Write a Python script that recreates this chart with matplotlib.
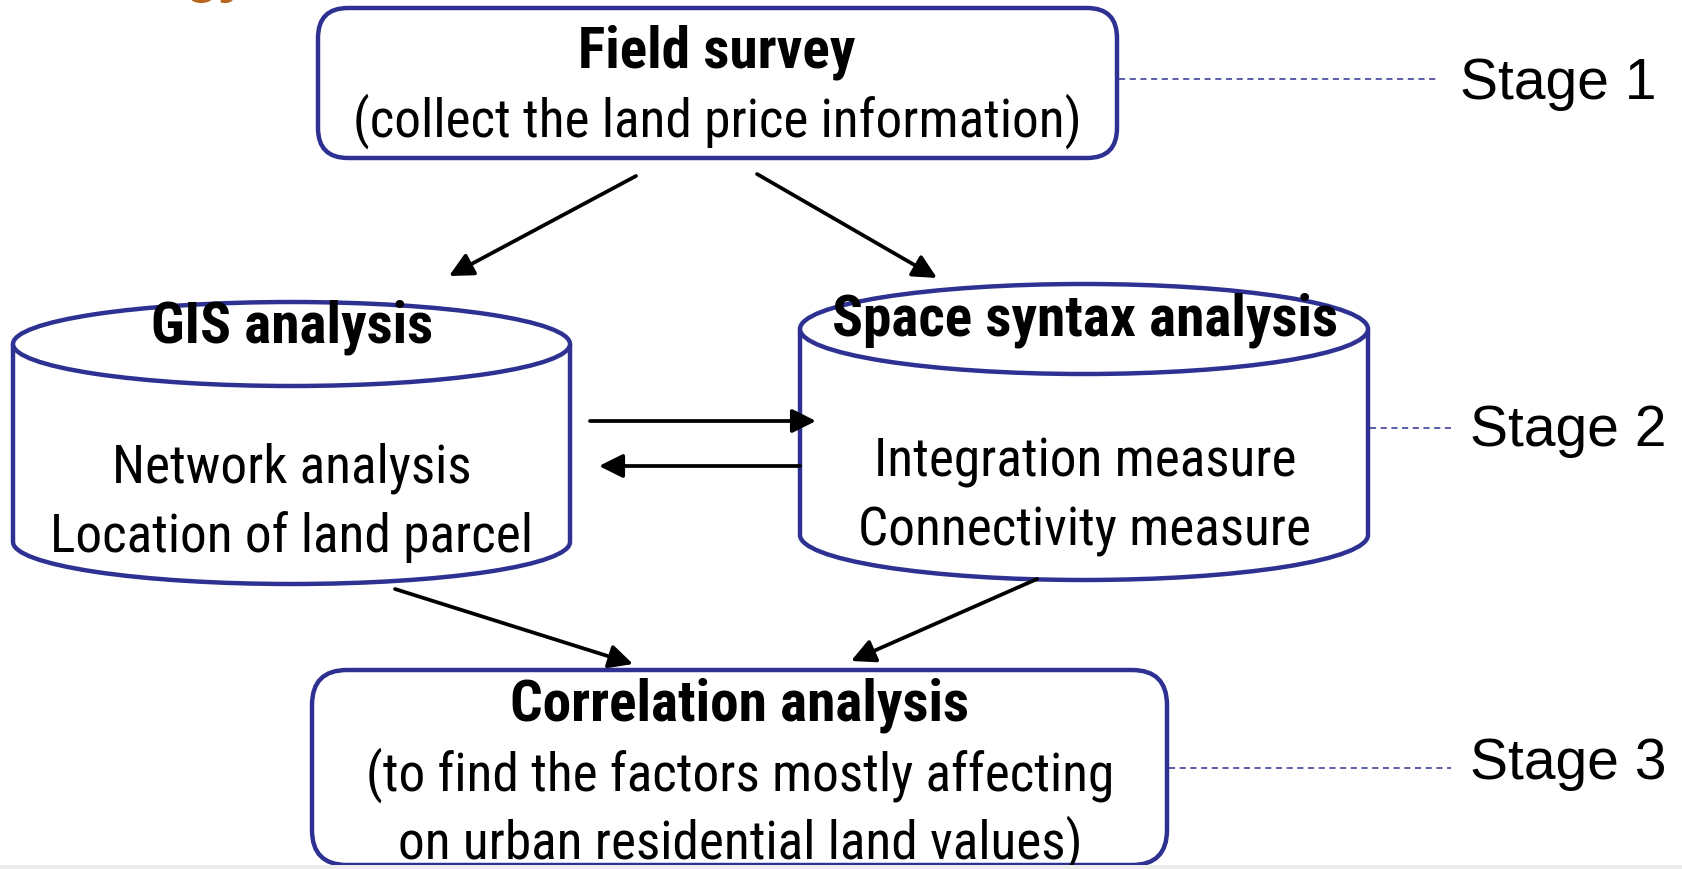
import matplotlib
matplotlib.use("Agg")
import matplotlib.pyplot as plt
from matplotlib import font_manager
from matplotlib.patches import FancyBboxPatch, Ellipse, Arc, Rectangle, FancyArrowPatch
import numpy as np

names = {f.name for f in font_manager.fontManager.ttflist}
NARROW = next((n for n in ['Liberation Sans Narrow', 'Roboto Condensed', 'Archivo Narrow',
                           'PT Sans Narrow', 'IBM Plex Sans Condensed'] if n in names), 'Liberation Sans')
REG = 'Liberation Sans'

# ---- content ----
box_titles = ["Field survey", "GIS analysis", "Space syntax analysis", "Correlation analysis"]
box_bodies = [["(collect the land price information)"],
              ["Network analysis", "Location of land parcel"],
              ["Integration measure", "Connectivity measure"],
              ["(to find the factors mostly affecting", "on urban residential land values)"]]
stage_labels = ["Stage 1", "Stage 2", "Stage 3"]

# reference text widths (px) used to size the narrow font
title_widths = [277, 282, 506, 456]
body_widths = [[719], [361, 482], [424, 458], [730, 683]]

BLUE = '#2E3192'
W, H = 1683, 870
fig = plt.figure(figsize=(W/100, H/100), dpi=100)
ax = fig.add_axes([0, 0, 1, 1])
ax.set_xlim(0, W)
ax.set_ylim(H, 0)
ax.axis('off')

LW = 3.2
FS0 = 40

rend = fig.canvas.get_renderer()
def width_of(s, weight):
    t = ax.text(0, 0, s, fontsize=FS0, fontweight=weight, family=NARROW)
    w = t.get_window_extent(rend).width
    t.remove()
    return w
rb = [tw / width_of(s, 'bold') for s, tw in zip(box_titles, title_widths)]
rr = [tw / width_of(s, 'normal') for lines, ws in zip(box_bodies, body_widths) for s, tw in zip(lines, ws)]
FSB = FS0 * float(np.median(rb))
FSR = FS0 * float(np.median(rr))

def rbox(x0, y0, x1, y1, r):
    p = FancyBboxPatch((x0 + r, y0 + r), (x1 - x0) - 2*r, (y1 - y0) - 2*r,
                       boxstyle=f"round,pad={r}", fc='white', ec=BLUE, lw=LW, zorder=2)
    ax.add_patch(p)

def cylinder(x0, x1, ytop, ybot, ry):
    cx = (x0 + x1) / 2
    w = x1 - x0
    ax.add_patch(Rectangle((x0, ytop), w, ybot - ytop, fc='white', ec='none', zorder=2))
    ax.add_patch(Ellipse((cx, ybot), w, 2*ry, fc='white', ec='none', zorder=2))
    ax.add_patch(Arc((cx, ybot), w, 2*ry, theta1=0, theta2=180, ec=BLUE, lw=LW, zorder=3))
    ax.plot([x0, x0], [ytop, ybot], color=BLUE, lw=LW, zorder=3, solid_capstyle='butt')
    ax.plot([x1, x1], [ytop, ybot], color=BLUE, lw=LW, zorder=3, solid_capstyle='butt')
    ax.add_patch(Ellipse((cx, ytop), w, 2*ry, fc='white', ec=BLUE, lw=LW, zorder=3))

def arrow(p0, p1):
    a = FancyArrowPatch(p0, p1, arrowstyle='-|>', mutation_scale=36, color='black',
                        lw=2.7, zorder=4, shrinkA=0, shrinkB=0)
    ax.add_patch(a)

def title(x, y, s):
    ax.text(x, y, s, fontsize=FSB, fontweight='bold', family=NARROW,
            ha='center', va='center', zorder=5)

def body(x, y, s):
    ax.text(x, y, s, fontsize=FSR, family=NARROW, ha='center', va='center', zorder=5)

# orange remnant of slide title
ax.text(185, -9, "gy", fontsize=40, fontweight='bold', color='#B8651E',
        family=REG, ha='left', va='baseline', zorder=1)

# Top box
rbox(318, 9, 1117, 159, 30)
title(717, 52, box_titles[0])
body(717, 121, box_bodies[0][0])

# Left cylinder
cylinder(13, 570, 345, 543, 42)
title(292, 327, box_titles[1])
body(292, 468, box_bodies[1][0])
body(292, 537, box_bodies[1][1])

# Right cylinder
cylinder(800, 1368, 330, 536, 45)
title(1085, 320, box_titles[2])
body(1085, 463, box_bodies[2][0])
body(1085, 532, box_bodies[2][1])

# Bottom box
rbox(312, 671, 1167, 866, 35)
title(740, 705, box_titles[3])
body(740, 775, box_bodies[3][0])
body(740, 843, box_bodies[3][1])

# Arrows
arrow((636, 177), (449, 277))
arrow((757, 175), (937, 279))
arrow((590, 422), (816, 422))
arrow((800, 467), (599, 467))
arrow((395, 590), (633, 665))
arrow((1037, 580), (851, 662))

# Stage dashed connectors and labels
dash = dict(color=BLUE, lw=1.1, ls=(0, (4, 3)), zorder=1)
ax.plot([1119, 1438], [80, 80], **dash)
ax.plot([1370, 1451], [429, 429], **dash)
ax.plot([1169, 1451], [769, 769], **dash)
ax.text(1460, 84, stage_labels[0], fontsize=41, family=REG, ha='left', va='center')
ax.text(1470, 431, stage_labels[1], fontsize=41, family=REG, ha='left', va='center')
ax.text(1470, 764, stage_labels[2], fontsize=41, family=REG, ha='left', va='center')

# bottom slide strip
ax.add_patch(Rectangle((0, 866), W, 4, fc='#EEEBEB', ec='none', zorder=6))

fig.savefig("out.png", dpi=100)
